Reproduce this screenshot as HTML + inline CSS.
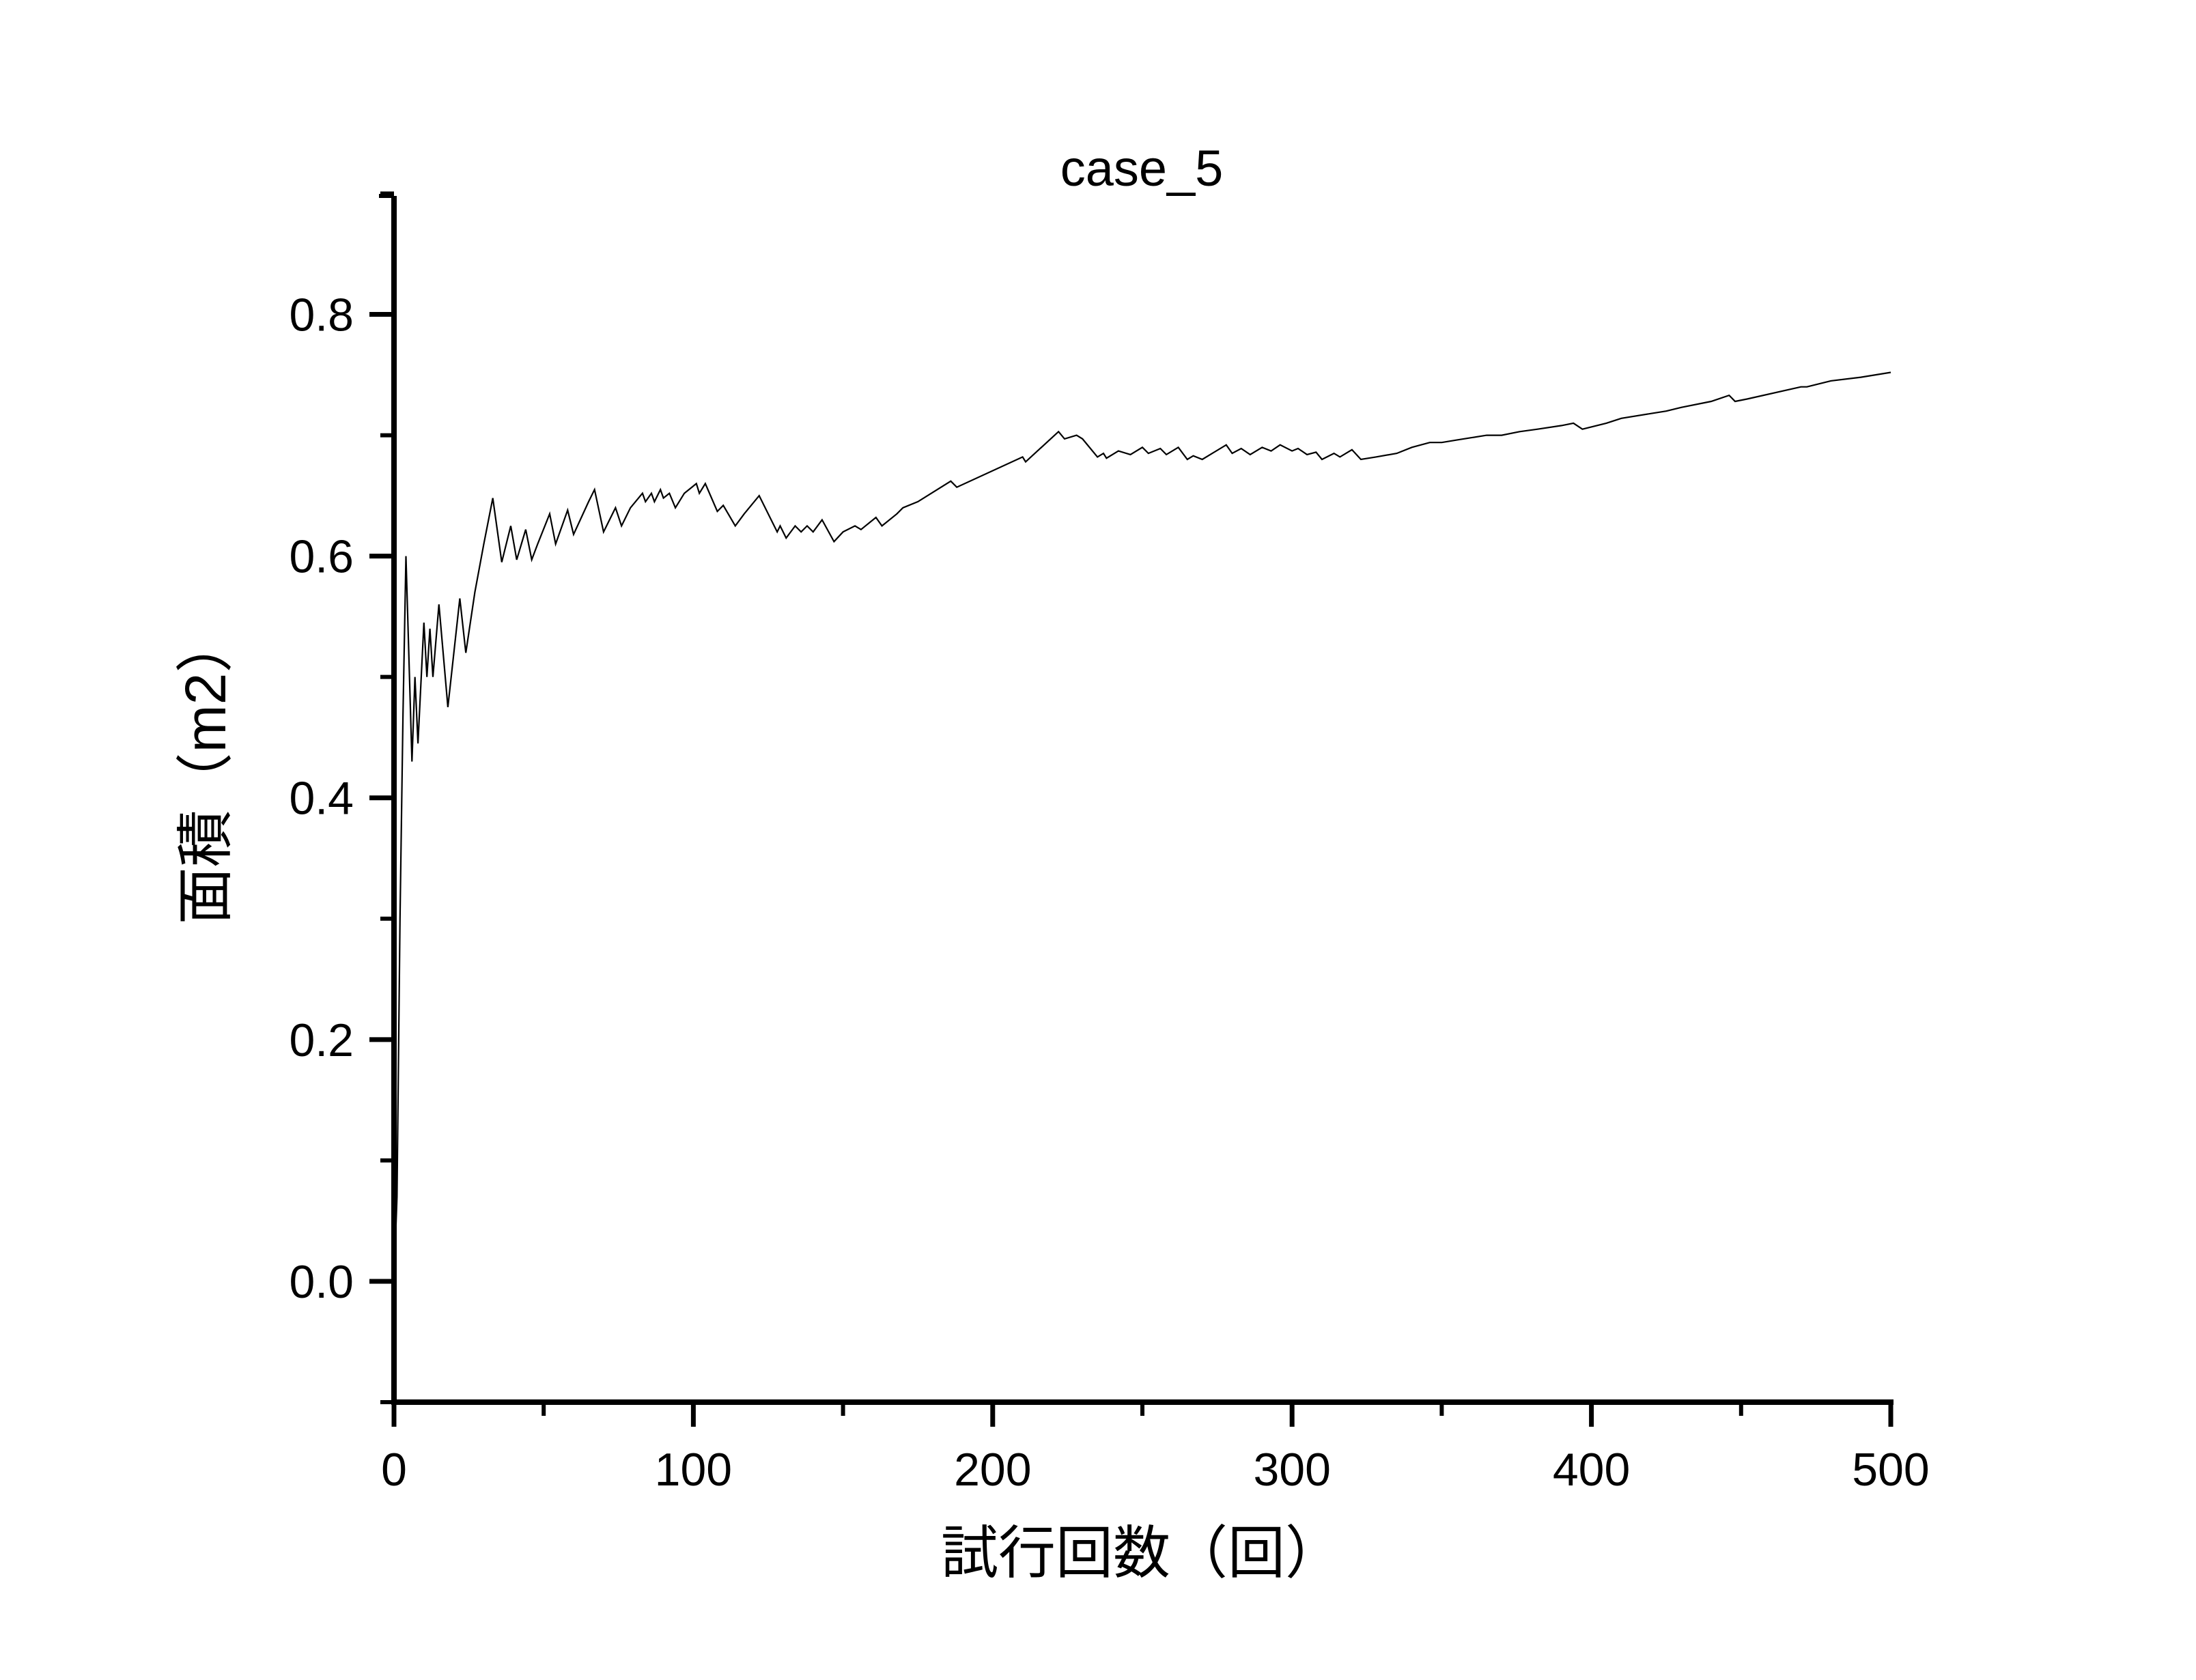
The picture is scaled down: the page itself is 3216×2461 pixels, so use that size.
<!DOCTYPE html>
<html><head><meta charset="utf-8"><style>
html,body{margin:0;padding:0;background:#fff;}
svg{display:block;}
text{font-family:"Liberation Sans","Noto Sans CJK JP",sans-serif;fill:#000;}
</style></head>
<body>
<svg id="chart" width="3216" height="2461" viewBox="0 0 3216 2461" xmlns="http://www.w3.org/2000/svg">
<rect width="3216" height="2461" fill="#fff"/>
<text x="1672" y="272" font-size="74" text-anchor="middle">case_5</text>
<text transform="translate(330,1128) rotate(-90)" font-size="84" text-anchor="middle">面積（m2）</text>
<text x="1672" y="2304" font-size="84" text-anchor="middle">試行回数（回）</text>
<g id="axes"></g>
<path id="series" fill="none" stroke="#000" stroke-width="2.2" stroke-linejoin="miter"/>
</svg>
<script>
const xTicks = [0,100,200,300,400,500];
const yTicks = [0.0,0.2,0.4,0.6,0.8];
const yTickLabels = ["0.0","0.2","0.4","0.6","0.8"];
const trials = [0,1,2,3,4,6,7,8,10,11,12,13,15,18,22,24,27,30,33,36,39,41,44,46,48,52,54,58,60,65,67,70,74,76,79,83,84,86,87,89,90,92,94,97,101,102,104,108,110,114,117,122,127,128,129,131,134,136,138,140,143,147,150,154,156,159,161,163,168,170,175,186,188,210,211,222,224,228,230,235,237,238,242,246,250,252,256,258,262,265,267,270,278,280,283,286,290,293,296,300,302,305,308,310,314,316,320,323,328,335,340,346,350,355,360,365,370,376,382,390,394,397,405,410,420,425,430,440,446,448,452,470,472,480,490,500];
const areas = [0,0.07,0.3,0.47,0.6,0.43,0.5,0.445,0.545,0.5,0.54,0.5,0.56,0.475,0.565,0.52,0.57,0.61,0.648,0.595,0.625,0.597,0.622,0.597,0.61,0.635,0.61,0.638,0.618,0.645,0.655,0.62,0.64,0.625,0.64,0.652,0.645,0.652,0.645,0.655,0.648,0.652,0.64,0.652,0.66,0.652,0.66,0.637,0.642,0.625,0.635,0.65,0.625,0.62,0.625,0.615,0.625,0.62,0.625,0.62,0.63,0.612,0.62,0.625,0.622,0.628,0.632,0.625,0.635,0.64,0.645,0.662,0.657,0.682,0.678,0.703,0.697,0.7,0.697,0.682,0.685,0.681,0.687,0.684,0.69,0.685,0.689,0.684,0.69,0.68,0.683,0.68,0.692,0.685,0.689,0.684,0.69,0.687,0.692,0.687,0.689,0.684,0.686,0.68,0.685,0.682,0.688,0.68,0.682,0.685,0.69,0.694,0.694,0.696,0.698,0.7,0.7,0.703,0.705,0.708,0.71,0.705,0.71,0.714,0.718,0.72,0.723,0.728,0.733,0.728,0.73,0.74,0.74,0.745,0.748,0.752];

const X0=577, X1=2769, Y0=2054, Y1=287, XMIN=0, XMAX=500, YMIN=-0.1, YMAX=0.898;
const xs = v => X0 + (v-XMIN)/(XMAX-XMIN)*(X1-X0);
const ys = v => Y0 - (v-YMIN)/(YMAX-YMIN)*(Y0-Y1);
const NS="http://www.w3.org/2000/svg";
const axes=document.getElementById('axes');
function mk(tag,attrs){const e=document.createElementNS(NS,tag);for(const k in attrs)e.setAttribute(k,attrs[k]);axes.appendChild(e);return e;}

let e;
e=mk('line',{x1:X0,y1:Y1,x2:X0,y2:Y0+4,stroke:'#000','stroke-width':8});


e=mk('line',{x1:X0-4,y1:Y0,x2:X1+4,y2:Y0,stroke:'#000','stroke-width':8});


e=mk('line',{x1:X0-22,y1:Y1,x2:X0,y2:Y1,stroke:'#000','stroke-width':6});



xTicks.forEach((t,i)=>{
  const x=xs(t);
  let l=mk('line',{x1:x,y1:Y0,x2:x,y2:Y0+36,stroke:'#000','stroke-width':7});
  
  
  let tx=mk('text',{x:x,y:2176,'font-size':68,'text-anchor':'middle'});
  tx.textContent=String(t);
  
  
  if(i<xTicks.length-1){
    let m=mk('line',{x1:xs(t+50),y1:Y0,x2:xs(t+50),y2:Y0+20,stroke:'#000','stroke-width':6});
    
    
  }
});
yTicks.forEach((t,i)=>{
  const y=ys(t);
  let l=mk('line',{x1:X0-36,y1:y,x2:X0,y2:y,stroke:'#000','stroke-width':7});
  
  
  let tx=mk('text',{x:518,y:y+24,'font-size':68,'text-anchor':'end'});
  tx.textContent=yTickLabels[i];
  
  
  let m=mk('line',{x1:X0-20,y1:ys(t+0.1),x2:X0,y2:ys(t+0.1),stroke:'#000','stroke-width':6});
  
  
});
let m=mk('line',{x1:X0-20,y1:ys(-0.1),x2:X0,y2:ys(-0.1),stroke:'#000','stroke-width':6});



let d='';
trials.forEach((t,i)=>{d+=(i?'L':'M')+xs(t).toFixed(1)+' '+ys(areas[i]).toFixed(1)+' ';});
document.getElementById('series').setAttribute('d',d);
</script>
</body></html>
